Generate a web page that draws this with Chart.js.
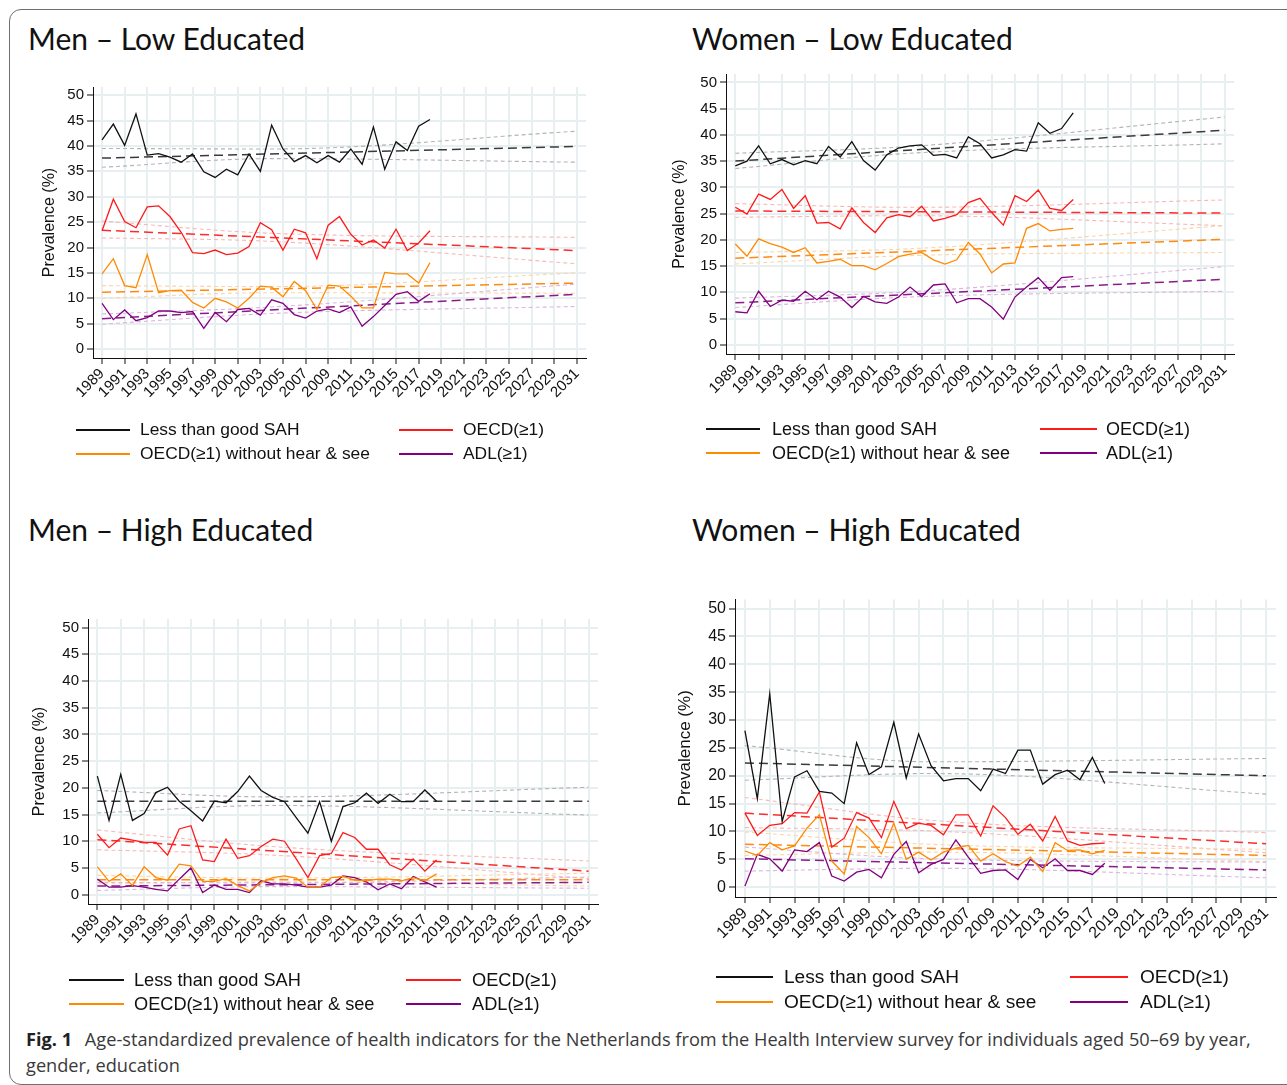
<!DOCTYPE html>
<html>
<head>
<meta charset="utf-8">
<script src="https://cdn.jsdelivr.net/npm/chart.js@4.4.0/dist/chart.umd.min.js"></script>
<style>
  html, body { margin: 0; padding: 0; background: #fff; overflow: hidden; }
  body { width: 1287px; height: 1085px; position: relative; }
  #frame { position: absolute; left: 9px; top: 9px; width: 1300px; height: 1074px;
           border: 1px solid #6f6f6f; border-radius: 12px; }
  .ptitle { position: absolute; font-family: Lato, "Open Sans", sans-serif; font-size: 30px;
            color: #111; white-space: nowrap; line-height: 1; }
  canvas { position: absolute; }
  .lg-line { position: absolute; height: 2px; }
  .lg-text { position: absolute; font-family: "Liberation Sans", Arial, sans-serif; color: #111;
             white-space: nowrap; line-height: 1; }
  #caption { position: absolute; left: 26px; top: 1026px; font-family: "Open Sans", sans-serif;
             font-size: 18.2px; line-height: 26px; color: #3a3a3a; white-space: nowrap; }
  #caption b { color: #222; margin-right: 8px; }
</style>
</head>
<body>
<div id="frame"></div>

<div class="ptitle" style="left:28px;top:23px;">Men – Low Educated</div>
<div class="ptitle" style="left:692px;top:23px;">Women – Low Educated</div>
<div class="ptitle" style="left:28px;top:514px;">Men – High Educated</div>
<div class="ptitle" style="left:692px;top:514px;">Women – High Educated</div>

<canvas id="menLow"></canvas>
<canvas id="womenLow"></canvas>
<canvas id="menHigh"></canvas>
<canvas id="womenHigh"></canvas>

<div id="legends"></div>

<div id="caption"><b>Fig. 1</b> Age-standardized prevalence of health indicators for the Netherlands from the Health Interview survey for individuals aged 50–69 by year,<br>gender, education</div>

<script>
const years = [1989, 1990, 1991, 1992, 1993, 1994, 1995, 1996, 1997, 1998, 1999, 2000, 2001, 2002, 2003,
               2004, 2005, 2006, 2007, 2008, 2009, 2010, 2011, 2012, 2013, 2014, 2015, 2016, 2017, 2018];
const trendYears = [1989, 2031];
const bandYears = [1989, 2004, 2031];
const xTicks = [1989, 1991, 1993, 1995, 1997, 1999, 2001, 2003, 2005, 2007, 2009, 2011, 2013, 2015,
                2017, 2019, 2021, 2023, 2025, 2027, 2029, 2031];
const yTicks = [0, 5, 10, 15, 20, 25, 30, 35, 40, 45, 50];
const legendLabels = ['Less than good SAH', 'OECD(≥1)', 'OECD(≥1) without hear & see', 'ADL(≥1)'];
const yTitle = 'Prevalence (%)';

// Men – Low Educated
const menLowSah = [41.2, 44.3, 40.1, 46.3, 38.2, 38.5, 37.8, 36.8, 38.4, 34.9, 33.8, 35.4, 34.3, 38.4, 35.0,
                   44.1, 39.4, 36.9, 38.1, 36.7, 38.1, 36.8, 39.4, 36.4, 43.7, 35.4, 40.8, 39.1, 43.9, 45.2];
const menLowOecd = [23.3, 29.5, 25.1, 23.9, 28.0, 28.2, 26.1, 23.0, 19.0, 18.8, 19.5, 18.6, 18.9, 20.2, 24.9,
                    23.5, 19.5, 23.6, 22.9, 17.8, 24.4, 26.1, 22.6, 20.5, 21.5, 19.9, 23.6, 19.4, 20.9, 23.3];
const menLowNoHs = [14.8, 17.8, 12.5, 12.1, 18.6, 11.1, 11.5, 11.6, 9.2, 8.1, 10.0, 9.3, 8.1, 10.0, 12.4,
                    12.2, 10.3, 13.3, 11.5, 7.8, 12.6, 12.4, 10.4, 8.1, 8.1, 15.1, 14.8, 14.8, 13.0, 17.0];
const menLowAdl = [9.0, 5.8, 7.7, 5.6, 6.2, 7.5, 7.5, 7.2, 7.4, 4.1, 7.2, 5.4, 7.8, 8.0, 6.7,
                   9.7, 9.0, 6.8, 6.1, 7.5, 7.9, 7.2, 8.3, 4.5, 6.4, 8.6, 10.8, 11.3, 9.4, 10.9];
const menLowTrends = [[37.6, 39.9], [23.4, 19.4], [11.2, 13.0], [6.0, 10.8]];
const menLowUpper = [[39.5, 39.4, 42.9], [25.2, 22.8, 22.0], [12.5, 12.3, 15.0], [6.9, 8.3, 12.8]];
const menLowLower = [[35.8, 37.5, 36.8], [21.9, 21.2, 16.8], [10.0, 11.1, 11.0], [4.9, 7.0, 8.4]];

// Women – Low Educated
const womenLowSah = [34.1, 35.0, 37.9, 34.5, 35.3, 34.3, 35.1, 34.5, 37.8, 35.8, 38.7, 35.1, 33.3, 36.2, 37.5,
                     37.9, 38.1, 36.1, 36.3, 35.6, 39.6, 38.3, 35.6, 36.2, 37.2, 36.9, 42.3, 40.3, 41.2, 44.2];
const womenLowOecd = [26.2, 24.9, 28.7, 27.7, 29.6, 26.0, 28.4, 23.2, 23.3, 22.1, 26.1, 23.3, 21.4, 24.2, 24.8,
                      24.4, 26.4, 23.6, 24.1, 24.8, 27.1, 27.9, 25.2, 22.8, 28.4, 27.3, 29.5, 26.0, 25.6, 27.7];
const womenLowNoHs = [19.2, 16.9, 20.2, 19.3, 18.6, 17.6, 18.5, 15.6, 15.9, 16.3, 15.1, 15.1, 14.3, 15.5, 16.8,
                      17.3, 17.6, 16.2, 15.4, 16.2, 19.5, 17.3, 13.7, 15.4, 15.6, 22.2, 23.1, 21.7, 22.0, 22.2];
const womenLowAdl = [6.3, 6.1, 10.2, 7.3, 8.5, 8.3, 10.2, 8.6, 10.2, 9.1, 7.1, 9.2, 8.2, 7.9, 9.1,
                     11.0, 9.2, 11.4, 11.6, 8.0, 8.8, 8.8, 7.2, 4.9, 9.1, 11.0, 12.8, 10.4, 12.8, 13.0];
const womenLowTrends = [[35.0, 40.9], [25.5, 25.1], [16.5, 20.1], [8.0, 12.5]];
const womenLowUpper = [[36.5, 37.8, 43.4], [26.9, 26.2, 27.6], [17.6, 18.3, 22.7], [8.9, 10.1, 14.9]];
const womenLowLower = [[33.6, 36.5, 38.3], [24.3, 24.6, 22.7], [15.4, 17.0, 17.6], [7.1, 9.1, 10.2]];

// Men – High Educated
const menHighSah = [22.2, 13.9, 22.5, 13.9, 15.2, 19.1, 20.1, 17.5, 15.7, 13.8, 17.5, 17.2, 19.3, 22.2, 19.5,
                    18.2, 17.4, 14.4, 11.5, 17.4, 10.0, 16.5, 17.2, 19.0, 17.1, 18.8, 17.4, 17.4, 19.6, 17.5];
const menHighOecd = [11.3, 8.8, 10.6, 10.2, 9.8, 9.8, 7.4, 12.3, 12.9, 6.5, 6.2, 10.4, 6.8, 7.3, 9.0,
                     10.4, 10.0, 6.7, 3.2, 7.3, 7.7, 11.6, 10.7, 8.5, 8.5, 5.6, 4.6, 6.7, 4.4, 6.5];
const menHighNoHs = [5.2, 2.5, 3.9, 1.7, 5.2, 3.2, 2.7, 5.7, 5.4, 2.5, 2.5, 3.0, 1.7, 0.7, 2.3,
                     3.2, 3.5, 3.1, 1.4, 1.4, 3.2, 3.4, 2.7, 2.6, 2.9, 2.9, 2.6, 3.2, 2.6, 3.9];
const menHighAdl = [2.9, 1.4, 1.4, 1.7, 1.4, 1.0, 0.7, 2.9, 5.0, 0.4, 1.8, 1.0, 1.0, 0.4, 2.6,
                    2.0, 2.0, 1.8, 1.4, 1.4, 1.8, 3.5, 3.2, 2.4, 0.9, 2.0, 1.1, 3.4, 2.4, 1.4];
const menHighTrends = [[17.5, 17.5], [10.3, 4.4], [2.8, 2.8], [1.6, 2.3]];
const menHighUpper = [[19.5, 18.3, 20.1], [12.1, 9.0, 6.3], [3.6, 3.1, 4.0], [2.3, 2.2, 3.3]];
const menHighLower = [[15.3, 16.7, 14.9], [8.4, 7.4, 3.0], [2.0, 2.4, 1.6], [0.8, 1.5, 1.2]];

// Women – High Educated
const womenHighSah = [28.1, 15.9, 34.7, 11.8, 19.8, 20.9, 17.2, 16.9, 15.0, 25.9, 20.2, 21.6, 29.6, 19.6, 27.5,
                      21.8, 19.1, 19.5, 19.5, 17.3, 21.2, 20.4, 24.6, 24.6, 18.5, 20.2, 21.0, 19.3, 23.3, 18.6];
const womenHighOecd = [13.3, 9.3, 11.1, 11.4, 13.4, 13.3, 17.1, 7.2, 8.8, 13.4, 12.4, 8.9, 15.4, 10.5, 11.5,
                       11.1, 9.4, 13.0, 13.0, 9.2, 14.6, 12.5, 9.5, 11.3, 8.3, 12.7, 8.3, 7.5, 7.8, 7.9];
const womenHighNoHs = [6.5, 5.7, 8.0, 6.7, 7.4, 10.6, 13.0, 4.7, 2.4, 10.9, 8.9, 6.0, 11.5, 5.0, 6.3,
                       4.9, 6.3, 7.0, 7.5, 4.7, 6.0, 4.6, 3.8, 5.4, 2.8, 8.0, 6.6, 6.7, 6.0, 6.6];
const womenHighAdl = [0.2, 5.9, 5.1, 2.9, 6.7, 6.4, 8.0, 2.0, 1.1, 2.7, 3.2, 1.7, 5.9, 8.2, 2.6,
                      4.1, 5.0, 8.5, 5.4, 2.5, 3.0, 3.1, 1.4, 5.0, 3.5, 5.1, 3.0, 3.0, 2.3, 4.3];
const womenHighTrends = [[22.3, 20.0], [13.3, 7.8], [7.7, 5.7], [5.1, 3.1]];
const womenHighUpper = [[25.4, 22.5, 23.1], [16.1, 12.0, 9.8], [9.9, 7.7, 6.8], [7.2, 5.1, 4.5]];
const womenHighLower = [[19.2, 20.4, 16.7], [10.7, 10.1, 6.2], [5.7, 6.3, 4.6], [2.9, 3.4, 1.7]];

const lineColors = ['#111111', '#ff1a1a', '#ff8a00', '#800080'];
const trendColors = ['#3a3a3a', '#ff2a2a', '#ff8a10', '#8a1a8a'];
const bandColors = ['#b4b4b4', '#f9b8b8', '#fdd3aa', '#dcb6dc'];
const gridColor = '#e7eff1';

const xMin = 1988.2, xMax = 2031.8, yMin = -1.75, yMax = 51.6;

function pts(xs, ys) {
  return xs.map((x, i) => ({ x: x, y: ys[i] }));
}

function buildPanel(id, box, fontPx, titlePx, series, trends, upper, lower) {
  const W = 70, H = 64, padTop = 10, padRight = 8;
  const cv = document.getElementById(id);
  cv.width = W + (box.right - box.left) + padRight;
  cv.height = padTop + (box.bottom - box.top) + H;
  cv.style.left = (box.left - W) + 'px';
  cv.style.top = (box.top - padTop) + 'px';

  const datasets = [];
  series.forEach((vals, i) => {
    datasets.push({ data: pts(years, vals), borderColor: lineColors[i], borderWidth: 1.3,
                    pointRadius: 0, tension: 0 });
  });
  trends.forEach((vals, i) => {
    datasets.push({ data: pts(trendYears, vals), borderColor: trendColors[i], borderWidth: 1.5,
                    borderDash: [9, 5], pointRadius: 0 });
  });
  upper.concat(lower).forEach((vals, i) => {
    datasets.push({ data: pts(bandYears, vals), borderColor: bandColors[i % 4], borderWidth: 1.1,
                    borderDash: [4, 3], pointRadius: 0, cubicInterpolationMode: 'monotone' });
  });

  const titleLine = titlePx * 1.2;
  const tickFont = { family: 'Liberation Sans, Arial, sans-serif', size: fontPx };

  new Chart(cv, {
    type: 'line',
    data: { datasets },
    options: {
      responsive: false,
      animation: false,
      events: [],
      layout: { padding: { top: padTop, right: padRight, left: 0, bottom: 0 } },
      plugins: { legend: { display: false }, tooltip: { enabled: false } },
      scales: {
        x: {
          type: 'linear', min: xMin, max: xMax,
          afterFit: s => { s.height = H; },
          afterBuildTicks: s => { s.ticks = xTicks.map(v => ({ value: v })); },
          ticks: { autoSkip: false, minRotation: 45, maxRotation: 45, padding: 1,
                   color: '#111', font: tickFont, callback: v => String(v) },
          grid: { color: gridColor, lineWidth: 2, tickColor: '#111', tickWidth: 1, tickLength: 6 },
          border: { color: '#111', width: 1 }
        },
        y: {
          min: yMin, max: yMax,
          afterFit: s => { s.width = W; },
          afterBuildTicks: s => { s.ticks = yTicks.map(v => ({ value: v })); },
          ticks: { autoSkip: false, padding: 3, color: '#111', font: tickFont },
          grid: { color: gridColor, lineWidth: 2, tickColor: '#111', tickWidth: 1, tickLength: 6 },
          border: { color: '#111', width: 1 },
          title: { display: true, text: yTitle, color: '#111',
                   font: { family: 'Liberation Sans, Arial, sans-serif', size: titlePx },
                   padding: { top: box.titleX - (box.left - W) - titleLine / 2, bottom: 0 } }
        }
      }
    }
  });
}

buildPanel('menLow', { left: 93, top: 85, right: 586, bottom: 358, titleX: 50 }, 15, 16,
  [menLowSah, menLowOecd, menLowNoHs, menLowAdl], menLowTrends, menLowUpper, menLowLower);
buildPanel('womenLow', { left: 726, top: 72, right: 1234, bottom: 354, titleX: 680 }, 15, 16,
  [womenLowSah, womenLowOecd, womenLowNoHs, womenLowAdl], womenLowTrends, womenLowUpper, womenLowLower);
buildPanel('menHigh', { left: 88, top: 617, right: 598, bottom: 904, titleX: 40 }, 15, 16,
  [menHighSah, menHighOecd, menHighNoHs, menHighAdl], menHighTrends, menHighUpper, menHighLower);
buildPanel('womenHigh', { left: 735, top: 597, right: 1276, bottom: 897, titleX: 685 }, 16, 17,
  [womenHighSah, womenHighOecd, womenHighNoHs, womenHighAdl], womenHighTrends, womenHighUpper, womenHighLower);

// legends: two rows x two columns under each panel
const legendSpots = [
  { rows: [430, 454], lines: [[76, 130], [399, 453]], texts: [140, 463], size: 17.4 },
  { rows: [429, 453], lines: [[706, 760], [1040, 1097]], texts: [772, 1106], size: 18 },
  { rows: [980, 1004], lines: [[69, 124], [406, 461]], texts: [134, 472], size: 18.2 },
  { rows: [977, 1002], lines: [[716, 773], [1070, 1128]], texts: [784, 1140], size: 19.1 }
];
const holder = document.getElementById('legends');
legendSpots.forEach(spot => {
  legendLabels.forEach((label, i) => {
    const col = i % 2, row = Math.floor(i / 2);
    const ln = document.createElement('div');
    ln.className = 'lg-line';
    ln.style.left = spot.lines[col][0] + 'px';
    ln.style.width = (spot.lines[col][1] - spot.lines[col][0]) + 'px';
    ln.style.top = (spot.rows[row] - 1) + 'px';
    ln.style.background = lineColors[i];
    holder.appendChild(ln);
    const tx = document.createElement('div');
    tx.className = 'lg-text';
    tx.textContent = label;
    tx.style.left = spot.texts[col] + 'px';
    tx.style.fontSize = spot.size + 'px';
    tx.style.top = (spot.rows[row] - spot.size * 0.5) + 'px';
    holder.appendChild(tx);
  });
});
</script>
</body>
</html>
